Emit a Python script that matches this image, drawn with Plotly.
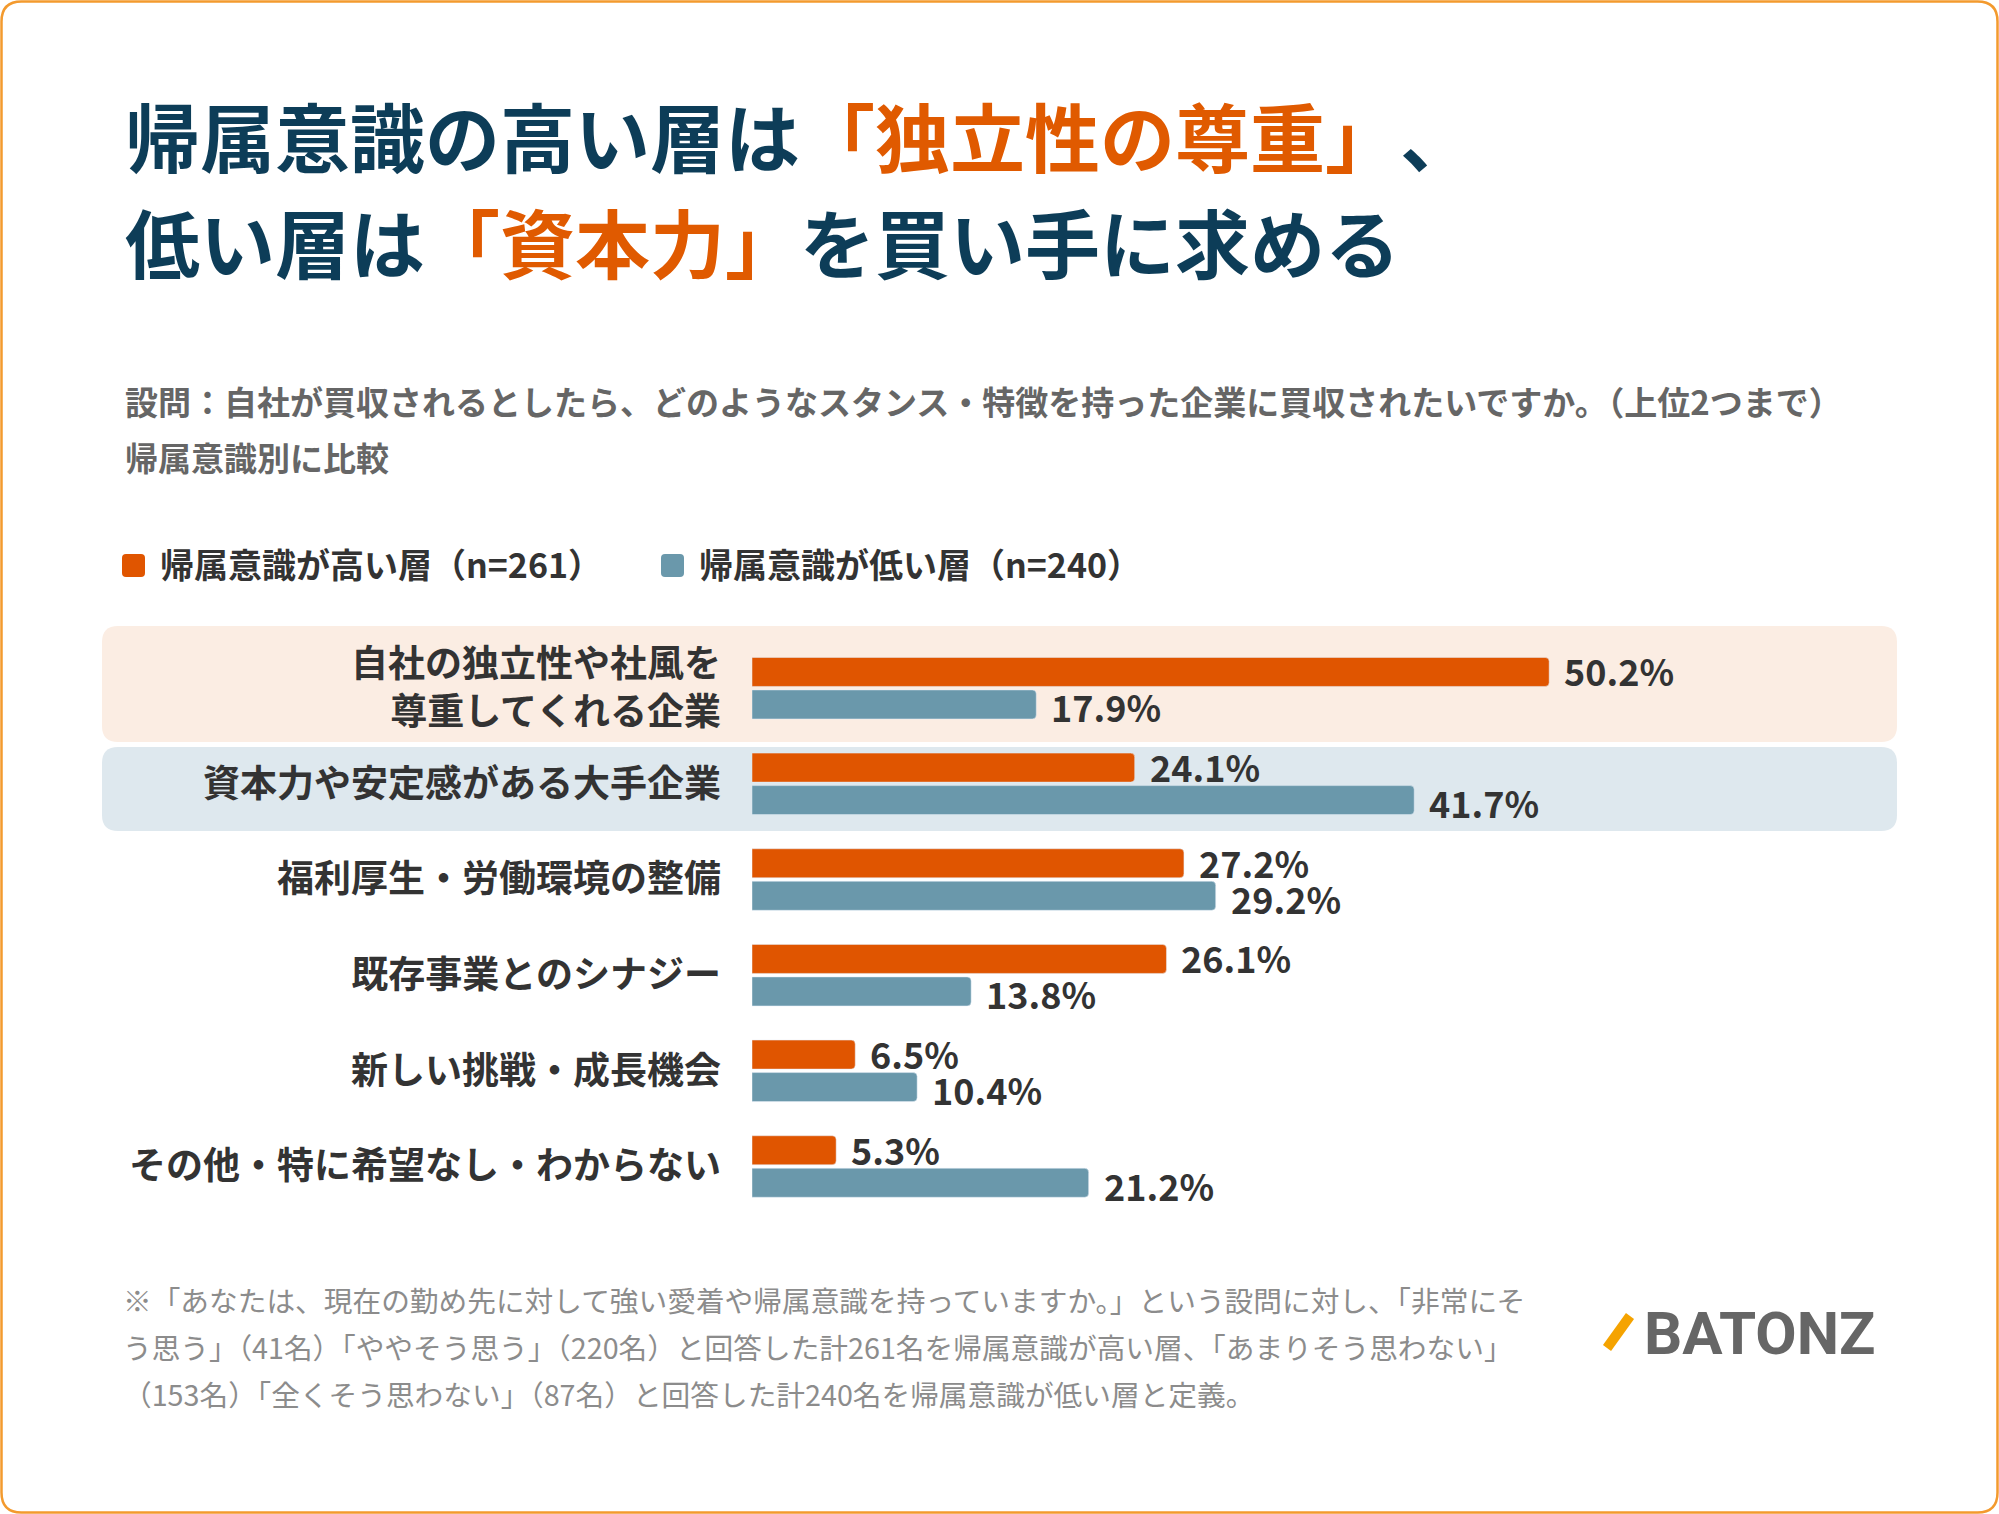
import plotly.graph_objects as go

# --- data ---
categories = [
    "自社の独立性や社風を<br>尊重してくれる企業",
    "資本力や安定感がある大手企業",
    "福利厚生・労働環境の整備",
    "既存事業とのシナジー",
    "新しい挑戦・成長機会",
    "その他・特に希望なし・わからない",
]
high_group = [50.2, 24.1, 27.2, 26.1, 6.5, 5.3]
low_group = [17.9, 41.7, 29.2, 13.8, 10.4, 21.2]
series_names = ["帰属意識が高い層（n=261）", "帰属意識が低い層（n=240）"]

# title pieces: (text, highlighted?)
title_line1 = [("帰属意識の高い層は", False), ("「独立性の尊重」", True), ("、", False)]
title_line2 = [("低い層は", False), ("「資本力」", True), ("を買い手に求める", False)]
subtitle_lines = [
    "設問：自社が買収されるとしたら、どのようなスタンス・特徴を持った企業に買収されたいですか。（上位2つまで）",
    "帰属意識別に比較",
]
footnote_lines = [
    "※「あなたは、現在の勤め先に対して強い愛着や帰属意識を持っていますか。」という設問に対し、「非常にそ",
    "う思う」（41名）「ややそう思う」（220名）と回答した計261名を帰属意識が高い層、「あまりそう思わない」",
    "（153名）「全くそう思わない」（87名）と回答した計240名を帰属意識が低い層と定義。",
]

# --- colours ---
ORANGE = "#E05500"
TITLE_ORANGE = "#E05A00"
BLUE = "#6A98AB"
NAVY = "#0D3D58"
DARK = "#333333"
FONT = "Noto Sans CJK JP"

# --- canvas / plot area in pixels ---
W, H = 1999, 1514
L, R, T, B = 752, 102, 600, 264
PW, PH = W - L - R, H - T - B
PX_PER_PCT = 15.88
ROW = 95.66
FIRST_ROW = 688.2
TITLE_SIZE = 75


def fx(x):
    return (x - L) / PW


def fy(y):
    return 1 - (y - T) / PH


def rounded_rect(x0, y0, x1, y1, r):
    return (f"M {fx(x0 + r)},{fy(y0)} L {fx(x1 - r)},{fy(y0)} "
            f"Q {fx(x1)},{fy(y0)} {fx(x1)},{fy(y0 + r)} L {fx(x1)},{fy(y1 - r)} "
            f"Q {fx(x1)},{fy(y1)} {fx(x1 - r)},{fy(y1)} L {fx(x0 + r)},{fy(y1)} "
            f"Q {fx(x0)},{fy(y1)} {fx(x0)},{fy(y1 - r)} L {fx(x0)},{fy(y0 + r)} "
            f"Q {fx(x0)},{fy(y0)} {fx(x0 + r)},{fy(y0)} Z")


fig = go.Figure()
fig.add_trace(go.Bar(y=categories, x=high_group, orientation="h", name=series_names[0],
                     marker=dict(color=ORANGE, cornerradius=4), showlegend=False,
                     hoverinfo="skip"))
fig.add_trace(go.Bar(y=categories, x=low_group, orientation="h", name=series_names[1],
                     marker=dict(color=BLUE, cornerradius=4), showlegend=False,
                     hoverinfo="skip"))

annotations = []

# value labels next to each bar
for vals, shift in [(high_group, 18), (low_group, -18)]:
    for cat, v in zip(categories, vals):
        annotations.append(dict(x=v, y=cat, xref="x", yref="y", text=f"{v:.1f}%",
                                xshift=14, yshift=shift,
                                font=dict(family=FONT, size=36, color=DARK, weight=700)))

shapes = [
    # highlight rows
    dict(type="path", path=rounded_rect(102, 626, 1897, 742, 16), xref="paper", yref="paper",
         fillcolor="#FBEDE3", line=dict(width=0), layer="below"),
    dict(type="path", path=rounded_rect(102, 747, 1897, 831, 16), xref="paper", yref="paper",
         fillcolor="#DEE8EE", line=dict(width=0), layer="below"),
    # legend swatches
    dict(type="path", path=rounded_rect(122, 554, 145, 577, 4), xref="paper", yref="paper",
         fillcolor=ORANGE, line=dict(width=0)),
    dict(type="path", path=rounded_rect(661, 554, 684, 577, 4), xref="paper", yref="paper",
         fillcolor=BLUE, line=dict(width=0)),
    # logo slash
    dict(type="line", x0=fx(1607), y0=fy(1348), x1=fx(1630), y1=fy(1316), xref="paper", yref="paper",
         line=dict(color="#F5A300", width=10)),
    # outer frame
    dict(type="path", path=rounded_rect(1.5, 1.5, W - 1.5, H - 1.5, 20), xref="paper", yref="paper",
         line=dict(color="#F39A2E", width=2.5), fillcolor="rgba(0,0,0,0)"),
]


def paper_text(x, y, text, size, color, weight=700, family=FONT):
    annotations.append(dict(x=fx(x), y=fy(y), xref="paper", yref="paper", text=text,
                            font=dict(family=family, size=size, color=color, weight=weight)))


# title: full-width glyphs are 1em wide, so each coloured piece starts after the previous one
for line, y in [(title_line1, 135), (title_line2, 241)]:
    x = 124
    for piece, hot in line:
        paper_text(x, y, piece, TITLE_SIZE, TITLE_ORANGE if hot else NAVY)
        x += len(piece) * TITLE_SIZE

paper_text(124, 401, subtitle_lines[0], 33, "#666666")
paper_text(124, 457, subtitle_lines[1], 33, "#666666")
paper_text(159, 563, series_names[0], 34, DARK)
paper_text(698, 563, series_names[1], 34, DARK)
paper_text(1643, 1333, "BATONZ", 60, "#666666", family="Roboto")
for i, line in enumerate(footnote_lines):
    paper_text(122, 1299 + 47 * i, line, 28.7, "#8C8C8C", weight=400)

for a in annotations:
    a.update(xanchor="left", yanchor="middle", align="left", showarrow=False, borderpad=0)

# category index range so rows land where the reference puts them
y_top = -(FIRST_ROW - T) / ROW
y_bottom = y_top + PH / ROW

fig.update_layout(
    width=W, height=H,
    margin=dict(l=L, r=R, t=T, b=B, pad=0),
    paper_bgcolor="white", plot_bgcolor="rgba(0,0,0,0)",
    barmode="group", bargap=1 - 65 / ROW, bargroupgap=7 / 65,
    shapes=shapes, annotations=annotations,
    xaxis=dict(range=[0, PW / PX_PER_PCT], visible=False, fixedrange=True),
    yaxis=dict(type="category", range=[y_bottom, y_top], showgrid=False, zeroline=False,
               showline=False, ticks="", ticklabelstandoff=30, automargin=False,
               fixedrange=True,
               tickfont=dict(family=FONT, size=37, color=DARK, weight=700)),
    font=dict(family=FONT),
)

fig.write_html("out.html", config={"displayModeBar": False},
               post_script="document.body.style.margin='0';")
